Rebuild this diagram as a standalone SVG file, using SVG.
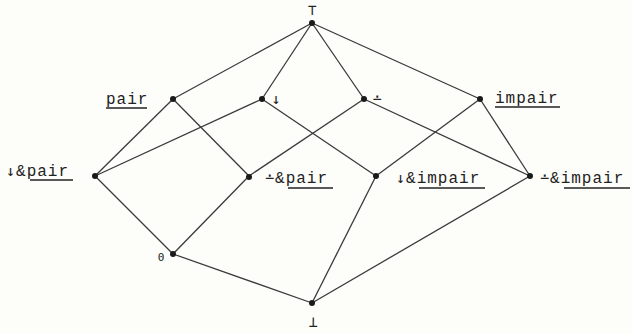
<svg xmlns="http://www.w3.org/2000/svg" width="632" height="333" viewBox="0 0 632 333">
<style>
.e{stroke:#3a3a3a;stroke-width:1.3;fill:none}
.d{fill:#1a1a1a}
.t{font-family:"Liberation Mono","DejaVu Sans Mono",monospace;font-size:16px;fill:#222;letter-spacing:1px}
.s{font-family:"DejaVu Sans Mono","Liberation Mono",monospace;font-size:15px;fill:#222}
.u{stroke:#222;stroke-width:1.4}
</style>
<rect width="632" height="333" fill="#fdfdfa"/>
<g id="connectors">
<line class="e" x1="312" y1="23" x2="173" y2="99"/>
<line class="e" x1="312" y1="23" x2="262" y2="99"/>
<line class="e" x1="312" y1="23" x2="364" y2="99"/>
<line class="e" x1="312" y1="23" x2="480" y2="99"/>
<line class="e" x1="173" y1="99" x2="95" y2="176"/>
<line class="e" x1="173" y1="99" x2="249" y2="176"/>
<line class="e" x1="262" y1="99" x2="95" y2="176"/>
<line class="e" x1="262" y1="99" x2="376" y2="176"/>
<line class="e" x1="364" y1="99" x2="249" y2="176"/>
<line class="e" x1="364" y1="99" x2="530" y2="176"/>
<line class="e" x1="480" y1="99" x2="376" y2="176"/>
<line class="e" x1="480" y1="99" x2="530" y2="176"/>
<line class="e" x1="95" y1="176" x2="173" y2="254"/>
<line class="e" x1="249" y1="176" x2="173" y2="254"/>
<line class="e" x1="376" y1="176" x2="312" y2="303"/>
<line class="e" x1="530" y1="176" x2="312" y2="303"/>
<line class="e" x1="173" y1="254" x2="312" y2="303"/>
</g>
<g id="top"><circle class="d" cx="312" cy="23" r="3"/><text class="s" x="312" y="15" text-anchor="middle">⊤</text></g>
<g id="pair"><circle class="d" cx="173" cy="99" r="3"/><text class="t" x="106" y="104">pair</text><line class="u" x1="106" y1="108" x2="147" y2="108"/></g>
<g id="down"><circle class="d" cx="262" cy="99" r="3"/><text class="s" x="276" y="104" text-anchor="middle">↓</text></g>
<g id="dotminus"><circle class="d" cx="364" cy="99" r="3"/><text class="s" x="377" y="104" text-anchor="middle">∸</text></g>
<g id="impair"><circle class="d" cx="480" cy="99" r="3"/><text class="t" x="495" y="103">impair</text><line class="u" x1="495" y1="107" x2="560" y2="107"/></g>
<g id="down-pair"><circle class="d" cx="95" cy="176" r="3"/><text class="t" x="6" y="176"><tspan class="s">↓</tspan>&amp;pair</text><line class="u" x1="30" y1="180" x2="73" y2="180"/></g>
<g id="dotminus-pair"><circle class="d" cx="249" cy="177" r="3"/><text class="t" x="265" y="183"><tspan class="s">∸</tspan>&amp;pair</text><line class="u" x1="288" y1="188" x2="333" y2="188"/></g>
<g id="down-impair"><circle class="d" cx="376" cy="176" r="3"/><text class="t" x="396" y="183"><tspan class="s">↓</tspan>&amp;impair</text><line class="u" x1="419" y1="188" x2="485" y2="188"/></g>
<g id="dotminus-impair"><circle class="d" cx="530" cy="176" r="3"/><text class="t" x="540" y="183"><tspan class="s">∸</tspan>&amp;impair</text><line class="u" x1="564" y1="188" x2="630" y2="188"/></g>
<g id="zero"><circle class="d" cx="173" cy="254" r="3"/><text class="s" x="161" y="261" text-anchor="middle" style="font-size:11px">0</text></g>
<g id="bottom"><circle class="d" cx="312" cy="303" r="3"/><text class="s" x="313" y="327" text-anchor="middle">⊥</text></g>
</svg>
